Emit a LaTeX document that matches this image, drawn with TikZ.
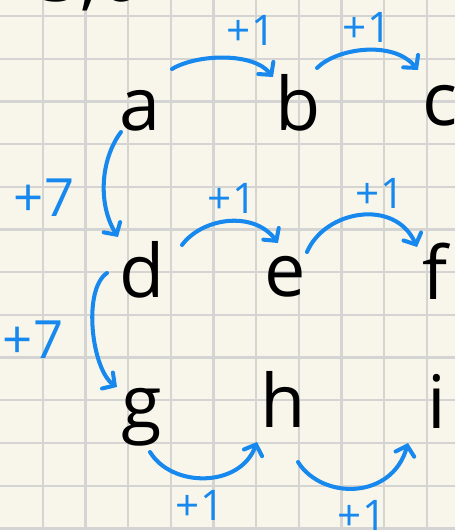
\documentclass[tikz,border=0pt]{standalone}
\usepackage{fontspec}
\setmainfont{Open Sans}
\usepackage{tikz}
\usetikzlibrary{arrows.meta}
\usepackage{xcolor}
\definecolor{paper}{RGB}{248,246,234}
\definecolor{gridgray}{RGB}{212,212,210}
\definecolor{inkblue}{RGB}{22,136,238}

\begin{document}
\begin{tikzpicture}[x=0.02cm, y=-0.02cm,
        % Define styles for the letters, the jumps and their labels
        letter/.style={font=\fontsize{42}{42}\selectfont, anchor=base, inner sep=0pt},
        jump/.style={draw=inkblue, line width=2.3pt, line cap=round,
            -{Straight Barb[length=5pt, width=11pt, line cap=round]}},
        inc/.style={text=inkblue, font=\fontsize{24}{24}\selectfont, inner sep=0pt},
        gridline/.style={draw=gridgray, line width=1.3pt}]

        % 1. Paper and grid
        \useasboundingbox (0,0) rectangle (455,530);
        \clip (0,0) rectangle (455,530);
        \fill[paper] (0,0) rectangle (455,530);
        \foreach \gx in {1,...,10}
            \draw[gridline] (42.7*\gx,0) -- (42.7*\gx,530);
        \foreach \gy in {0,...,12}
            \draw[gridline] (0,16+42.7*\gy) -- (455,16+42.7*\gy);

        % 2. Cut-off heading
        \node[letter] (head) at (90,2) {3,6};

        % 3. The nine letters
        \node[letter] (a) at (140,131) {a};
        \node[letter] (b) at (298,131) {b};
        \node[letter] (c) at (440,126) {c};
        \node[letter] (d) at (142,297) {d};
        \node[letter] (e) at (285,296) {e};
        \node[letter] (f) at (435,299) {f};
        \node[letter] (g) at (142,428) {g};
        \node[letter] (h) at (283,427) {h};
        \node[letter] (i) at (437,428) {i};

        % 4. Jumps of one to the right
        \draw[jump] ([shift={(32,-62)}]a.base) .. controls +(25,-15) and +(-20,-25) .. ([shift={(-25,-54)}]b.base);
        \draw[jump] ([shift={(19,-63)}]b.base) .. controls +(20,-20) and +(-25,-30) .. ([shift={(-22,-56)}]c.base);
        \draw[jump] ([shift={(40,-52)}]d.base) .. controls +(20,-27) and +(-25,-33) .. ([shift={(-7,-53)}]e.base);
        \draw[jump] ([shift={(22,-44)}]e.base) .. controls +(18,-42) and +(-22,-49) .. ([shift={(-18,-52)}]f.base);
        \draw[jump] ([shift={(8,24)}]g.base) .. controls +(22,36) and +(-17,46) .. ([shift={(-26,15)}]h.base);
        \draw[jump] ([shift={(15,35)}]h.base) .. controls +(24,38) and +(-16,57) .. ([shift={(-29,15)}]i.base);

        % 5. Jumps of seven downwards
        \draw[jump] ([shift={(-19,1)}]a.base) .. controls +(-21,28) and +(-20,-32) .. ([shift={(-24,-60)}]d.base);
        \draw[jump] ([shift={(-35,-24)}]d.base) .. controls +(-25,17) and +(-25,-17) .. ([shift={(-25,-41)}]g.base);

        % 6. Labels
        \node[inc] (ab) at (251,30) {+1};
        \node[inc] (bc) at (367,27) {+1};
        \node[inc] (de) at (232,198) {+1};
        \node[inc] (ef) at (380,193) {+1};
        \node[inc] (gh) at (200,505) {+1};
        \node[inc] (hi) at (362,515) {+1};
        \node[inc, font=\fontsize{30}{30}\selectfont] (ad) at (44,198) {+7};
        \node[inc, font=\fontsize{30}{30}\selectfont] (dg) at (33,340) {+7};

    \end{tikzpicture}
\end{document}
